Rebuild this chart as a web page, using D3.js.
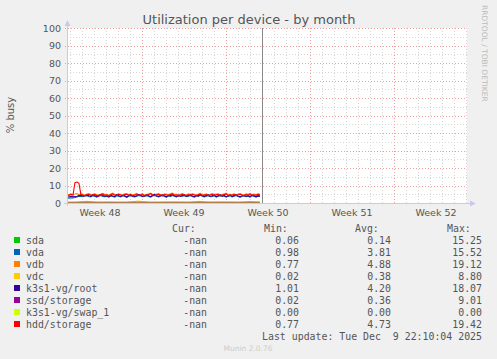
<!DOCTYPE html>
<html><head><meta charset="utf-8">
<script src="https://cdn.jsdelivr.net/npm/d3@7"></script>
<style>
html,body{margin:0;padding:0;background:#F0F0F0;}
svg{display:block;}
text{white-space:pre;}
</style></head>
<body>
<svg id="c" width="497" height="359"></svg>
<script>
// ---------- data ----------
const title = "Utilization per device - by month";
const yLabel = "% busy";
const yTicks = [0,10,20,30,40,50,60,70,80,90,100];
const weekLabels = ["Week 48","Week 49","Week 50","Week 51","Week 52"];
const seriesNames = ["sda","vda","vdb","vdc","k3s1-vg/root","ssd/storage","k3s1-vg/swap_1","hdd/storage"];
const seriesColors = ["#00CC00","#0066B3","#FF8000","#FFCC00","#330099","#990099","#CCFF00","#FF0000"];
const curVals = ["-nan","-nan","-nan","-nan","-nan","-nan","-nan","-nan"];
const minVals = ["0.06","0.98","0.77","0.02","1.01","0.02","0.00","0.77"];
const avgVals = ["0.14","3.81","4.88","0.38","4.20","0.36","0.00","4.73"];
const maxVals = ["15.25","15.52","19.12","8.80","18.07","9.01","0.00","19.42"];
const lastUpdate = "Last update: Tue Dec  9 22:10:04 2025";
const version = "Munin 2.0.76";
const watermark = "RRDTOOL / TOBI OETIKER";

const sda = [0.12,0.15,0.13,0.14,0.16,0.12,0.14,0.13,0.15,0.14,0.12,0.16,0.13,0.14];
const vda = [2.9,2.8,3.0,2.9,3.1,3.4,3.8,3.9,3.6,4.0,
 4.1,3.7,3.5,4.2,3.9,3.4,4.0,4.3,3.8,3.6,
 3.8,3.3,4.0,3.7,3.4,4.2,3.9,3.5,4.1,3.8,
 3.2,3.9,4.2,3.7,3.5,3.9,4.3,4.0,3.6,3.8,
 4.2,3.8,3.4,4.0,4.4,3.8,3.5,3.9,4.3,3.7,
 3.3,4.0,3.8,4.3,3.9,3.5,4.1,3.7,3.9,4.2,
 3.6,3.9,4.3,3.7,3.4,4.0,3.8,4.4,3.9,3.5,
 3.9,4.2,3.6,3.8,4.1,3.4,3.9,4.2,3.7,4.0,
 3.4,3.8,4.1,3.5,3.9,4.3,3.7,3.3,3.9,4.0,
 3.6,3.9,3.4,4.1,3.8,3.4,3.9,3.7];
const vdb = [5.0,4.8,5.3,4.9,5.1,5.4,4.7,5.2,4.9,4.6,
 5.1,5.4,4.8,5.0,5.3,4.7,4.5,5.2,5.5,4.9,
 5.0,4.6,5.1,5.6,4.9,4.8,5.3,5.0,4.6,5.2,
 5.4,4.9,5.1,4.7,5.0,5.5,4.8,5.0,5.3,4.6,
 4.9,5.2,5.7,5.0,4.7,5.1,5.4,4.9,4.6,5.2,
 5.0,4.8,5.3,5.6,4.9,5.1,4.5,5.0,5.4,4.9,
 4.7,5.2,4.9,5.3,5.0,4.6,5.1,5.5,4.8,4.9,
 5.2,4.7,5.0,5.4,4.9,5.1,5.3,4.6,4.9,5.2,
 5.6,4.8,5.0,4.9,5.3,4.7,5.1,5.4,4.9,4.6,
 5.2,5.0,5.5,4.8,5.1,4.9,5.3,5.0];
const vdc = [0.30,0.35,0.90,0.30,0.40,0.32,0.36,1.10,0.34,0.30,0.38,0.42,0.30,0.95,0.33,0.36,0.40,0.31,0.85,0.35];
const root = [3.6,3.4,3.8,3.5,3.7,3.9,4.2,4.4,4.0,4.3,
 4.5,4.1,3.8,4.6,4.2,3.7,4.4,4.8,4.3,3.9,
 4.1,3.5,4.4,4.0,3.6,4.7,4.2,3.8,4.5,4.1,
 3.4,4.3,4.6,4.0,3.7,4.2,4.8,4.4,3.9,4.1,
 4.6,4.2,3.6,4.4,4.9,4.1,3.8,4.3,4.7,4.0,
 3.5,4.4,4.1,4.8,4.2,3.7,4.5,4.0,4.3,4.6,
 3.9,4.2,4.7,4.0,3.6,4.4,4.1,4.8,4.2,3.8,
 4.3,4.6,3.9,4.1,4.5,3.7,4.2,4.6,4.0,4.4,
 3.6,4.1,4.5,3.8,4.3,4.7,4.0,3.5,4.2,4.4,
 3.9,4.3,3.7,4.5,4.1,3.6,4.2,4.0];
const ssd = [0.35,0.37,0.36,0.38,0.34,0.36,0.37,0.35,0.36,0.38,0.35,0.36,0.37,0.34,0.36,0.35,0.37,0.36,0.35,0.36];
const swap = [0,0,0,0,0,0,0,0,0,0];
const hdd = [4.6,4.3,4.9,4.4,11.6,12.0,11.2,4.8,4.5,4.1,
 4.7,5.0,4.3,4.6,4.9,4.2,3.9,4.8,5.1,4.4,
 4.6,4.0,4.7,5.2,4.5,4.3,4.9,4.6,4.1,4.8,
 5.0,4.4,4.7,4.2,4.5,5.1,4.3,4.6,4.9,4.0,
 4.4,4.8,5.3,4.6,4.2,4.7,5.0,4.5,4.1,4.8,
 4.6,4.3,4.9,5.2,4.4,4.7,4.0,4.6,5.0,4.5,
 4.2,4.8,4.4,4.9,4.6,4.1,4.7,5.1,4.3,4.5,
 4.8,4.2,4.6,5.0,4.4,4.7,4.9,4.1,4.5,4.8,
 5.2,4.3,4.6,4.4,4.9,4.2,4.7,5.0,4.5,4.1,
 4.8,4.6,5.1,4.3,4.7,4.4,4.9,4.6];
const seriesData = [sda,vda,vdb,vdc,root,ssd,swap,hdd];

// time window (UTC)
const tStart = Date.UTC(2025,10,24,18,0);   // left edge
const tEnd   = Date.UTC(2025,11,28,2,0);    // right edge
const tDataEnd = Date.UTC(2025,11,10,20,0); // last sample
const tNow   = Date.UTC(2025,11,11,0,0);    // end-of-data rule

// ---------- layout ----------
const L=67, R=467, T=28, B=203;
const svg = d3.select("#c");
svg.append("rect").attr("width",497).attr("height",359).attr("fill","#F0F0F0");
svg.append("rect").attr("x",L).attr("y",T).attr("width",R-L).attr("height",B-T).attr("fill","#FFFFFF");

const x = d3.scaleUtc().domain([new Date(tStart),new Date(tEnd)]).range([L,R]);
const y = d3.scaleLinear().domain([0,100]).range([B,T]);

const g = svg.append("g").attr("shape-rendering","crispEdges");
// minor grid
const days = d3.utcDay.range(new Date(tStart), new Date(tEnd)).filter(d=>d.getUTCDay()!==1);
g.selectAll(".vd").data(days).join("line")
 .attr("x1",d=>Math.round(x(d))+0.5).attr("x2",d=>Math.round(x(d))+0.5)
 .attr("y1",T).attr("y2",B).attr("stroke","#D6D6D6").attr("stroke-dasharray","1,2");
const minorY = d3.range(5,100,10);
g.selectAll(".hm").data(minorY).join("line")
 .attr("x1",L).attr("x2",R).attr("y1",d=>Math.round(y(d))+0.5).attr("y2",d=>Math.round(y(d))+0.5)
 .attr("stroke","#D6D6D6").attr("stroke-dasharray","1,2");
// major grid
const weeks = d3.utcMonday.range(new Date(tStart), new Date(tEnd));
g.selectAll(".vw").data(weeks).join("line")
 .attr("x1",d=>Math.round(x(d))+0.5).attr("x2",d=>Math.round(x(d))+0.5)
 .attr("y1",T).attr("y2",B+2).attr("stroke","#EEA0A0").attr("stroke-dasharray","1,2");
g.selectAll(".hw").data(yTicks.slice(1)).join("line")
 .attr("x1",L-2).attr("x2",R).attr("y1",d=>Math.round(y(d))+0.5).attr("y2",d=>Math.round(y(d))+0.5)
 .attr("stroke","#EEA0A0").attr("stroke-dasharray","1,2");

// y tick labels
svg.selectAll(".yt").data(yTicks).join("text")
 .attr("x",61).attr("y",d=>y(d)+3.5).attr("text-anchor","end")
 .attr("font-family","DejaVu Sans").attr("font-size","9.5px").attr("fill","#555")
 .text(d=>d);
// week labels centered mid-week
const mids = weeks.map(w=>new Date(+w - 3.5*86400000)).concat([]);
const labelDates = d3.utcMonday.range(new Date(tStart-7*86400000), new Date(tEnd))
  .map(w=>new Date(+w+3.5*86400000)).filter(d=>x(d)>L && x(d)<R);
svg.selectAll(".xt").data(labelDates).join("text")
 .attr("x",d=>x(d)).attr("y",216).attr("text-anchor","middle")
 .attr("font-family","DejaVu Sans").attr("font-size","9.5px").attr("fill","#555")
 .text((d,i)=>weekLabels[i]);

// data lines
const n = seriesData.length;
const line = d3.line().x(d=>x(d.t)).y(d=>y(d.v));
seriesData.forEach((arr,k)=>{
  const step = (tDataEnd - tStart)/(arr.length-1);
  const pts = arr.map((v,i)=>({t:new Date(tStart+i*step), v}));
  svg.append("path").datum(pts).attr("d",line)
    .attr("fill","none").attr("stroke",seriesColors[k]).attr("stroke-width",1.1);
});

// now rule
svg.append("line").attr("x1",Math.round(x(new Date(tNow)))+0.5).attr("x2",Math.round(x(new Date(tNow)))+0.5)
 .attr("y1",T).attr("y2",B).attr("stroke","#888").attr("stroke-width",1).attr("shape-rendering","crispEdges");

// axes with arrows
const ax = svg.append("g").attr("shape-rendering","crispEdges");
ax.append("line").attr("x1",L+0.5).attr("x2",L+0.5).attr("y1",B+3).attr("y2",T-4).attr("stroke","#C8C8F0");
ax.append("line").attr("x1",L-3).attr("x2",R+4).attr("y1",B+0.5).attr("y2",B+0.5).attr("stroke","#C8C8F0");
svg.append("path").attr("d",`M${L-2.5},${T-2} L${L+3.5},${T-2} L${L+0.5},${T-8} Z`).attr("fill","#C8C8F0");
svg.append("path").attr("d",`M${R+3},${B-2.5} L${R+3},${B+3.5} L${R+9},${B+0.5} Z`).attr("fill","#C8C8F0");

// title, y label, watermark, version
svg.append("text").attr("x",249).attr("y",24).attr("text-anchor","middle")
 .attr("font-family","DejaVu Sans").attr("font-size","13px").attr("fill","#555").text(title);
svg.append("text").attr("transform","translate(14,115) rotate(-90)").attr("text-anchor","middle")
 .attr("font-family","DejaVu Sans").attr("font-size","10px").attr("fill","#555").text(yLabel);
svg.append("text").attr("transform","translate(482,5) rotate(90)").attr("text-anchor","start")
 .attr("font-family","DejaVu Sans").attr("font-size","7.5px").attr("fill","#BBB").text(watermark);
svg.append("text").attr("x",248).attr("y",351).attr("text-anchor","middle")
 .attr("font-family","DejaVu Sans").attr("font-size","7.5px").attr("fill","#CCC").text(version);

// legend
const mono = "DejaVu Sans Mono", fs = "9.9px", col = "#555";
const hdrY = 231.5;
[["Cur:",172],["Min:",264],["Avg:",355],["Max:",447]].forEach(([t,xx])=>{
  svg.append("text").attr("x",xx).attr("y",hdrY).attr("font-family",mono).attr("font-size",fs).attr("fill",col).text(t);
});
seriesNames.forEach((name,i)=>{
  const cy = 240 + i*12;
  svg.append("rect").attr("x",14).attr("y",cy-3).attr("width",6).attr("height",6).attr("fill",seriesColors[i]);
  svg.append("text").attr("x",26).attr("y",cy+3.5).attr("font-family",mono).attr("font-size",fs).attr("fill",col).text(name);
  [[curVals,207],[minVals,299],[avgVals,391],[maxVals,482]].forEach(([arr,xx])=>{
    svg.append("text").attr("x",xx).attr("y",cy+3.5).attr("text-anchor","end")
      .attr("font-family",mono).attr("font-size",fs).attr("fill",col).text(arr[i]);
  });
});
svg.append("text").attr("x",482).attr("y",339.5).attr("text-anchor","end")
 .attr("font-family",mono).attr("font-size",fs).attr("fill",col).text(lastUpdate);
</script>
</body></html>
